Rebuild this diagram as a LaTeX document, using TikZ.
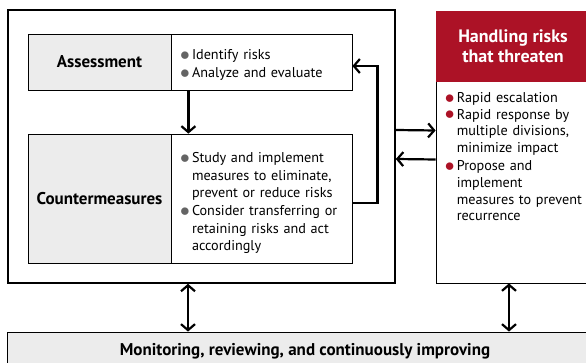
\documentclass[tikz,border=0pt]{standalone}
\usepackage{fontspec}
\setmainfont{PT Sans}
\usetikzlibrary{arrows.meta}

\definecolor{riskred}{RGB}{172,18,38}
\definecolor{headgray}{RGB}{236,236,236}
\definecolor{dotgray}{RGB}{100,100,100}
\newcommand{\riskitem}[2]{\par\noindent
    \makebox[12pt][l]{\raisebox{-0.8pt}{\textcolor{#1}{\scalebox{1.35}{$\bullet$}}}}%
    \parbox[t]{\dimexpr\hsize-12pt\relax}{\raggedright\strut#2\strut}}

\begin{document}
\begin{tikzpicture}[x=1pt,y=-1pt,>={Straight Barb[length=6pt,width=14pt]},
    box/.style={draw,line width=0.8pt,inner sep=0pt},
    head/.style={box,fill=headgray,minimum width=143pt,font=\fontsize{17}{20}\selectfont\bfseries},
    bullets/.style={align=left,inner xsep=9pt,
        font=\fontsize{14.2}{17.3}\selectfont\setlength{\lineskip}{0pt}\setlength{\parskip}{1pt}},
    list/.style={box,bullets,text width=163pt},
    flow/.style={line width=2.2pt}]
    \useasboundingbox (0,0) rectangle (586,363);
    \clip (0,0) rectangle (586,363);

    \node[draw,line width=1.6pt,minimum width=387pt,minimum height=273pt] (outer) at (201.5,146.5) {};
    \node[head,minimum height=56pt] (asshead) at (99.5,62) {Assessment};
    \node[list,minimum height=56pt] (asstext) at (261.5,62)
        {\riskitem{dotgray}{Identify risks}\riskitem{dotgray}{Analyze and evaluate}};
    \node[head,minimum height=129pt] (cmhead) at (99.5,198.5) {Countermeasures};
    \node[list,minimum height=129pt] (cmtext) at (261.5,198.5)
        {\vspace*{3pt}\riskitem{dotgray}{Study and implement\\measures to eliminate,\\prevent or reduce risks}%
         \riskitem{dotgray}{Consider transferring or\\retaining risks and act\\accordingly}};

    \node[box,minimum width=154pt,minimum height=272pt] (handle) at (513,147) {};
    \node[box,draw=riskred,fill=riskred,text=white,align=center,minimum width=154pt,minimum height=70pt,
        font=\fontsize{18}{20}\selectfont\bfseries] (handhead) at (513,46) {Handling risks\\that threaten};
    \node[bullets,anchor=north west,text width=145pt,inner ysep=4pt,
        font=\fontsize{14.2}{16.8}\selectfont\setlength{\parskip}{0pt}] (handlist) at (handhead.south west)
        {\riskitem{riskred}{Rapid escalation}%
         \riskitem{riskred}{Rapid response by\\multiple divisions,\\minimize impact}%
         \riskitem{riskred}{Propose and\\implement\\measures to prevent\\recurrence}};

    \node[box,fill=headgray,minimum width=596pt,minimum height=38pt,font=\fontsize{17}{20}\selectfont\bfseries]
        (monitor) at (305,351) {Monitoring, reviewing, and continuously improving};

    \path[flow,->] ([xshift=17pt]asshead.south east) edge ([xshift=17pt]cmhead.north east)
                   ([yshift=16.5pt]outer.east) edge ([yshift=16.5pt]handle.west)
                   ([yshift=-12.5pt]handle.west) edge ([yshift=-12.5pt]outer.east);
    \draw[flow,->] ([yshift=-4.5pt]cmtext.east) -- ++(25,0) |- ([yshift=-4pt]asstext.east);
    \path[flow,<->] ([xshift=-13.5pt]outer.south) edge ([xshift=-13.5pt]outer.south |- monitor.north)
                    ([xshift=-4pt]handle.south) edge ([xshift=-4pt]handle.south |- monitor.north);
\end{tikzpicture}
\end{document}
